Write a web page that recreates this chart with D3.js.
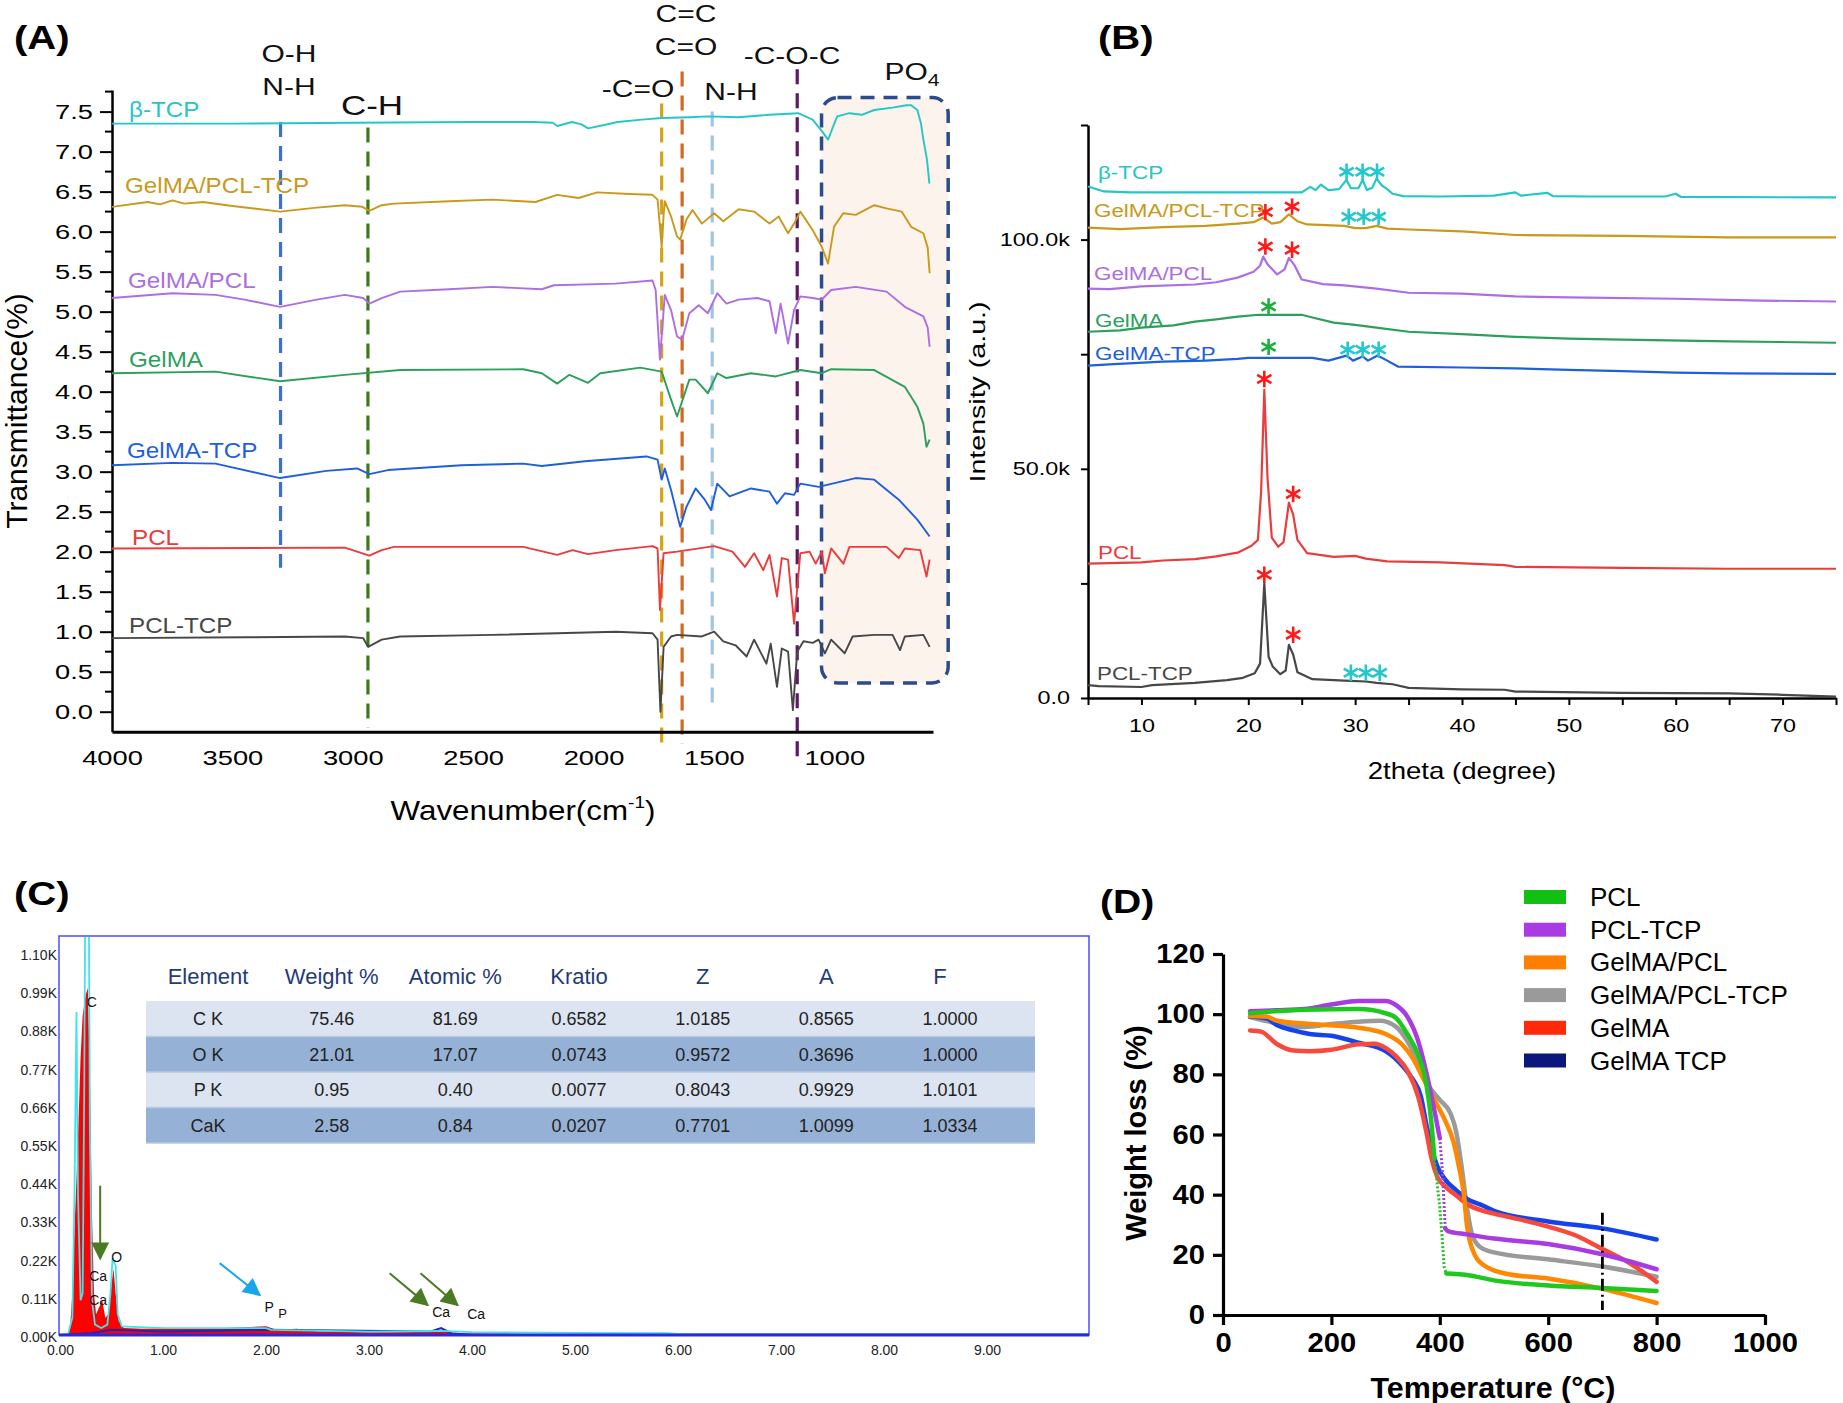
<!DOCTYPE html>
<html>
<head>
<meta charset="utf-8">
<script src="https://cdn.jsdelivr.net/npm/d3@7"></script>
<style>
body { margin: 0; background: #fff; }
svg { display: block; font-family: "Liberation Sans", Arial, Helvetica, sans-serif; }
</style>
</head>
<body>
<svg id="fig" width="1843" height="1403"></svg>
<script>
// ---------- (A) FTIR ----------
var ftirNames = ["β-TCP", "GelMA/PCL-TCP", "GelMA/PCL", "GelMA", "GelMA-TCP", "PCL", "PCL-TCP"];
var ftirBTCP = [[4000,7.35],[3500,7.35],[3000,7.36],[2500,7.37],[2250,7.37],[2170,7.36],[2150,7.32],[2090,7.37],[2050,7.34],[2023,7.29],[1960,7.33],[1900,7.37],[1800,7.4],[1717,7.42],[1600,7.43],[1525,7.44],[1400,7.43],[1270,7.46],[1150,7.48],[1090,7.4],[1050,7.25],[1026,7.15],[1000,7.35],[988,7.44],[937,7.48],[886,7.46],[834,7.52],[758,7.55],[700,7.58],[681,7.58],[655,7.52],[640,7.35],[630,7.15],[615,6.9],[605,6.6]];
var ftirGelPclTcp = [[4000,6.31],[3852,6.37],[3800,6.34],[3749,6.39],[3700,6.35],[3622,6.37],[3500,6.32],[3302,6.25],[3150,6.3],[3033,6.33],[2960,6.31],[2931,6.26],[2880,6.33],[2829,6.35],[2600,6.38],[2420,6.4],[2241,6.37],[2151,6.46],[2062,6.42],[1985,6.49],[1850,6.47],[1755,6.46],[1734,6.4],[1724,6.06],[1717,5.81],[1709,6.2],[1704,6.38],[1678,6.19],[1653,5.94],[1640,5.9],[1614,6.15],[1589,6.27],[1550,6.1],[1499,6.23],[1461,6.13],[1397,6.28],[1333,6.25],[1269,6.1],[1231,6.19],[1192,5.98],[1167,6.1],[1141,6.25],[1090,6.02],[1052,5.81],[1026,5.6],[1001,6.06],[963,6.23],[911,6.21],[834,6.33],[783,6.29],[720,6.25],[681,6.06],[630,5.98],[612,5.8],[604,5.48]];
var ftirGelPcl = [[4000,5.17],[3749,5.23],[3570,5.21],[3450,5.15],[3302,5.06],[3150,5.15],[3033,5.21],[2957,5.17],[2931,5.1],[2880,5.17],[2803,5.25],[2600,5.28],[2420,5.31],[2215,5.28],[2164,5.33],[1908,5.35],[1755,5.39],[1742,5.27],[1724,4.4],[1704,5.21],[1678,5.02],[1653,4.69],[1632,4.65],[1602,4.98],[1563,5.08],[1525,4.98],[1486,5.23],[1448,5.1],[1397,5.15],[1320,5.17],[1269,5.13],[1243,4.73],[1223,5.1],[1192,4.6],[1167,5.02],[1141,5.19],[1090,5.17],[1052,5.15],[1013,5.27],[911,5.31],[783,5.25],[707,5.06],[630,4.94],[612,4.8],[604,4.56]];
var ftirGelma = [[4000,4.23],[3570,4.25],[3302,4.13],[3033,4.21],[2803,4.27],[2292,4.28],[2215,4.23],[2151,4.1],[2100,4.21],[2023,4.11],[1972,4.23],[1806,4.3],[1717,4.25],[1678,3.9],[1653,3.69],[1602,4.15],[1576,4.15],[1525,3.98],[1486,4.23],[1448,4.17],[1346,4.23],[1243,4.19],[1141,4.27],[1052,4.23],[1013,4.28],[834,4.27],[707,4.06],[655,3.81],[630,3.6],[617,3.31],[604,3.4]];
var ftirGelmaTcp = [[4000,3.08],[3749,3.11],[3570,3.1],[3302,2.92],[3110,3.01],[2982,3.04],[2931,2.97],[2854,3.02],[2548,3.08],[2292,3.1],[2215,3.07],[2036,3.13],[1780,3.19],[1734,3.15],[1717,2.9],[1704,3.04],[1678,2.77],[1640,2.31],[1614,2.56],[1576,2.79],[1538,2.65],[1512,2.52],[1486,2.85],[1435,2.69],[1346,2.79],[1269,2.75],[1238,2.6],[1205,2.73],[1167,2.71],[1141,2.85],[1065,2.81],[911,2.92],[834,2.9],[732,2.65],[655,2.4],[604,2.19]];
var ftirPcl = [[4000,2.04],[3033,2.05],[2931,1.95],[2880,2.02],[2829,2.06],[2292,2.06],[2151,1.96],[2087,2.02],[2023,1.97],[1908,2.02],[1755,2.07],[1734,2.04],[1724,1.27],[1709,1.98],[1653,2.0],[1499,2.07],[1423,2.0],[1371,1.81],[1333,1.98],[1295,1.77],[1269,1.96],[1238,1.44],[1218,1.92],[1192,1.9],[1167,1.1],[1141,1.98],[1103,2.0],[1077,1.85],[1052,2.0],[1039,1.73],[1013,2.04],[962,1.85],[937,2.06],[783,2.06],[732,1.92],[707,2.04],[643,2.02],[617,1.69],[604,1.9]];
var ftirPclTcp = [[4000,0.92],[3443,0.93],[3033,0.94],[2957,0.92],[2936,0.81],[2880,0.9],[2803,0.94],[2420,0.96],[1908,1.0],[1755,0.98],[1734,0.9],[1722,0.0],[1709,0.81],[1678,0.94],[1653,0.96],[1550,0.94],[1499,1.0],[1461,0.88],[1410,0.83],[1364,0.69],[1333,0.9],[1282,0.6],[1264,0.85],[1238,0.31],[1218,0.79],[1192,0.75],[1172,0.02],[1154,0.75],[1128,0.88],[1090,0.86],[1065,0.9],[1039,0.73],[1013,0.9],[957,0.73],[924,0.94],[834,0.96],[758,0.96],[727,0.77],[707,0.94],[630,0.96],[604,0.81]];
var ftirTicksX = [4000, 3500, 3000, 2500, 2000, 1500, 1000];
var ftirBands = [3300, 2937, 1717, 1632, 1507, 1154];
var ftirBandTop = [7.37, 7.3, 7.6, 8.0, 7.5, 8.03];
var ftirBandBottom = [1.8, -0.2, -0.4, -0.4, 0.05, -0.6];
var po4Range = [1053, 527];

// ---------- (B) XRD ----------
var xrdBTCP = [[5,111.6],[6.5,110.5],[9,110.3],[15,110.3],[20,110.3],[25,110.3],[25.8,111.5],[26.3,110.8],[26.8,112],[27.5,110.8],[28.5,111],[29,112.5],[29.2,113],[29.6,111.2],[30.3,111.2],[30.7,113],[31.1,110.8],[31.6,111.3],[32,113.3],[32.5,111.8],[33,111],[33.5,110],[34.5,109.5],[38,109.4],[43,109.6],[45,110.3],[45.5,109.6],[48,110.2],[48.5,109.5],[52,109.4],[59,109.4],[60,110],[60.5,109.3],[75,109.2]];
var xrdGelPclTcp = [[5,102.6],[8,102.3],[12,102.7],[16,103],[19,103.5],[20.5,103.8],[21.4,104.8],[22.2,103.5],[23,103.8],[23.8,105.5],[24.6,104],[25.5,103.3],[29,103],[30,102.5],[31,102.5],[32,103],[33,102.4],[35,102.2],[40,101.8],[45,101],[55,100.8],[65,100.5],[75,100.5]];
var xrdGelPcl = [[5,89.3],[7,89.2],[10,89.8],[15,90.2],[17,90.7],[19,91.7],[20.5,93],[21.1,94.3],[21.4,96.3],[21.8,94.6],[22.7,92.4],[23.4,93.5],[23.8,96],[24.3,94.5],[25,91.3],[27,90.3],[29,90],[32,89.3],[35,88.4],[40,88.2],[45,87.6],[50,87.4],[60,87.1],[68,86.7],[75,86.5]];
var xrdGelma = [[5,79.9],[8,80.2],[10,80.8],[13,81.3],[15,82.1],[17,82.6],[19,83.2],[21,83.6],[25,83.6],[26,83],[28,81.9],[30,81.4],[32,80.8],[35,79.9],[40,79.4],[45,78.8],[50,78.4],[55,78.2],[65,77.8],[75,77.5]];
var xrdGelmaTcp = [[5,72.5],[7,72.8],[12,73.4],[16,73.6],[19,74],[20,74.2],[26,74.2],[27.5,73.6],[29.2,74.7],[29.8,73.6],[30.7,74.5],[31.2,73.6],[32.1,74.7],[33,73.6],[34,72.3],[40,72.1],[45,71.9],[50,71.6],[55,71.3],[60,71],[65,70.8],[75,70.7]];
var xrdPcl = [[5,29.3],[10,29.6],[12,30],[15,30.3],[17,30.9],[19,31.7],[20.3,33.2],[20.9,34.5],[21.2,45],[21.5,67.2],[21.8,48],[22.2,35],[22.8,33],[23.3,34],[23.8,42.6],[24.2,40],[24.6,34.5],[25.5,31.6],[28,30.8],[30,31],[31,30.4],[33,29.8],[38,29.6],[44,29],[45,28.6],[55,28.4],[65,28.2],[75,28.2]];
var xrdPclTcp = [[5,2.8],[6,2.6],[10,2.4],[11,2.8],[15,3.3],[18,3.9],[19.5,4.4],[20.6,5.4],[21.1,7.5],[21.5,25],[21.9,9],[22.3,6.8],[23,5.2],[23.5,6],[23.8,11.6],[24.2,9.5],[24.6,5.6],[26,4.1],[29,3.8],[31,3.6],[32,3.3],[33.5,3],[35,2.2],[40,1.9],[44,1.8],[45,1.4],[55,1.1],[65,1.0],[70,0.7],[75,0.3]];
// peak markers: [2theta, intensity (k), phase]
var xrdStars = [[29.2,114.8,"tcp"],[30.7,114.8,"tcp"],[32.05,114.8,"tcp"],
  [21.6,106,"pcl"],[24.1,107.2,"pcl"],[29.4,105,"tcp"],[30.8,105,"tcp"],[32.2,105,"tcp"],
  [21.6,98.5,"pcl"],[24.1,97.8,"pcl"],
  [21.9,85.4,"gel"],
  [21.9,76.6,"gel"],[29.3,76,"tcp"],[30.7,76,"tcp"],[32.2,76,"tcp"],
  [21.5,69.6,"pcl"],[24.2,44.5,"pcl"],
  [21.5,26.9,"pcl"],[24.2,13.8,"pcl"],[29.6,5.5,"tcp"],[31.0,5.5,"tcp"],[32.3,5.5,"tcp"]];

// ---------- (C) EDS ----------
var edsRed = [[0,0],[0.08,0.005],[0.1,0.03],[0.12,0.12],[0.14,0.3],[0.16,0.45],[0.18,0.62],[0.2,0.8],[0.22,0.92],[0.25,0.98],[0.27,1.0],[0.29,0.75],[0.31,0.35],[0.33,0.12],[0.35,0.06],[0.38,0.08],[0.41,0.1],[0.44,0.05],[0.47,0.06],[0.5,0.15],[0.52,0.19],[0.54,0.12],[0.57,0.04],[0.62,0.02],[0.8,0.018],[1.2,0.02],[1.6,0.02],[2.0,0.025],[2.1,0.015],[2.3,0.018],[2.5,0.01],[3.0,0.008],[3.6,0.008],[3.7,0.015],[3.8,0.005],[4.5,0.003],[5,0.002],[6,0.001]];
var edsCyan = [[0,0],[0.08,0.005],[0.12,0.05],[0.14,0.4],[0.16,0.93],[0.175,0.4],[0.2,0.1],[0.22,0.12],[0.235,0.7],[0.245,1.25],[0.28,1.25],[0.29,0.6],[0.31,0.1],[0.34,0.03],[0.4,0.02],[0.46,0.03],[0.49,0.12],[0.51,0.22],[0.54,0.2],[0.56,0.06],[0.6,0.025],[1.0,0.02],[2.0,0.02],[2.05,0.015],[3,0.01],[3.7,0.012],[4,0.008],[5,0.006],[5.9,0.005],[6,0.003],[10,0.003]];
var edsBlue = [[0,0],[0.3,0.005],[0.5,0.015],[1,0.01],[2,0.015],[3.6,0.01],[3.7,0.02],[3.8,0.005],[4,0]];
var edsTicksY = [0, 0.11, 0.22, 0.33, 0.44, 0.55, 0.66, 0.77, 0.88, 0.99, 1.10];
var edsTicksX = [0, 1, 2, 3, 4, 5, 6, 7, 8, 9];
var edsPeakLabels = [["C",0.31,0.96],["Ca",0.37,0.17],["Ca",0.37,0.1],["O",0.55,0.225],["P",2.03,0.08],["P",2.16,0.063],["Ca",3.7,0.066],["Ca",4.04,0.06]];
var edsArrows = [[0.39,0.43,0.39,0.22,"g"],[1.55,0.207,1.94,0.115,"b"],[3.2,0.178,3.57,0.086,"g"],[3.5,0.178,3.86,0.086,"g"]];
var tableHeader = ["Element", "Weight %", "Atomic %", "Kratio", "Z", "A", "F"];
var tableElement = ["C K", "O K", "P K", "CaK"];
var tableWeight = ["75.46", "21.01", "0.95", "2.58"];
var tableAtomic = ["81.69", "17.07", "0.40", "0.84"];
var tableKratio = ["0.6582", "0.0743", "0.0077", "0.0207"];
var tableZ = ["1.0185", "0.9572", "0.8043", "0.7701"];
var tableA = ["0.8565", "0.3696", "0.9929", "1.0099"];
var tableF = ["1.0000", "1.0000", "1.0101", "1.0334"];

// ---------- (D) TGA ----------
var tgaNames = ["PCL", "PCL-TCP", "GelMA/PCL", "GelMA/PCL-TCP", "GelMA", "GelMA TCP"];
var tgaPcl = [[50,100.3],[150,101.5],[250,101.7],[300,100.3],[320,98.6],[340,93.4],[360,86.5],[375,77],[385,63],[390,52],[400,35.8],[405,24],[408,16],[412,13.8],[450,13.3],[500,11.5],[600,9.8],[700,9],[800,8]];
var tgaPclTcp = [[50,101],[100,101.3],[150,101.7],[200,103.2],[250,104.4],[300,104.4],[320,102.9],[340,99.2],[360,91.1],[375,80.7],[390,68],[400,58.8],[405,47.3],[410,28.8],[415,27.9],[450,26.8],[500,25.4],[600,23.6],[700,20.2],[800,15.2]];
var tgaGelPcl = [[50,99.4],[80,99.2],[100,97.8],[150,96.9],[200,96.3],[250,95.5],[300,93.4],[330,90],[350,85.4],[370,78.4],[390,71.5],[410,64.6],[425,57.7],[435,49.6],[445,39.2],[450,30],[460,21.9],[480,16.7],[520,13.8],[600,12.1],[700,8.7],[800,4]];
var tgaGelPclTcp = [[50,99],[100,96.9],[150,95.7],[200,96.7],[250,97.5],[290,97.8],[320,95.7],[340,91.1],[360,84.2],[380,76.1],[400,71.5],[420,66.9],[430,61.1],[440,49.6],[450,35.8],[460,26.5],[475,22.5],[500,20.8],[600,18.5],[700,16.1],[800,12.7]];
var tgaGelma = [[50,94.6],[70,94.2],[100,90],[130,87.9],[160,87.7],[200,88.2],[250,90],[280,90.2],[300,88.8],[320,85.9],[340,81.3],[360,72.7],[375,61.1],[385,51.9],[395,46.1],[410,42.7],[430,39.8],[450,36.9],[480,34.6],[500,33.7],[600,29.4],[650,26.5],[700,21.9],[750,17.3],[800,11]];
var tgaGelmaTcp = [[50,99.2],[80,98.6],[100,96.3],[130,94.6],[160,93.4],[200,92.8],[250,90.5],[300,87.7],[330,83],[350,78.4],[365,72.7],[375,63.5],[385,55.4],[395,49.6],[410,45],[430,41.5],[450,38.6],[480,36.3],[500,34.6],[600,31.1],[700,28.8],[800,25.1]];
var tgaSparse = [[390, 412], [400, 410], null, null, null, null]; // sparse (dotted) stretch per series
var tgaMarkT = 700;
var tgaMarkRange = [1.7, 34];

var svg = d3.select("#fig");
svg.append("rect").attr("width", 1843).attr("height", 1403).attr("fill", "#fff");

// text helper: horizontally widened text, like the source figure
function label(g, x, y, str, size, k, anchor, fill, weight) {
    return g.append("text")
        .attr("transform", "translate(" + x + "," + y + ") scale(" + k + ",1)")
        .attr("text-anchor", anchor || "start")
        .attr("font-size", size)
        .attr("font-weight", weight || "normal")
        .attr("fill", fill || "#000")
        .text(str);
}
function widenTicks(axisG, k) {
    axisG.selectAll(".tick text").each(function () {
        var t = d3.select(this);
        t.attr("x", (+t.attr("x") || 0) / k).attr("transform", "scale(" + k + ",1)");
    });
}

// panel letters
label(svg, 14, 49, "(A)", 34, 1.18, "start", "#000", "bold");
label(svg, 1098, 49, "(B)", 34, 1.18, "start", "#000", "bold");
label(svg, 14, 905, "(C)", 34, 1.18, "start", "#000", "bold");
label(svg, 1100, 913, "(D)", 34, 1.15, "start", "#000", "bold");

// ================= (A) =================
function drawFTIR() {
    var xA = d3.scaleLinear().domain([4000, 590]).range([112, 933]);
    var yA = d3.scaleLinear().domain([-0.25, 7.77]).range([731.7, 90]);
    var gA = svg.append("g");

    // PO4 region
    gA.append("rect")
        .attr("x", xA(po4Range[0])).attr("y", yA(7.675))
        .attr("width", xA(po4Range[1]) - xA(po4Range[0]))
        .attr("height", yA(0.36) - yA(7.675))
        .attr("rx", 16)
        .attr("fill", "#fbf3ec").attr("stroke", "#2c4b8c")
        .attr("stroke-width", 3.5).attr("stroke-dasharray", "14,9");

    // band markers
    var bandColors = ["#3a6fd4", "#3c7a1a", "#d4a418", "#d2691e", "#9cc5e8", "#5e1763"];
    ftirBands.forEach(function (b, i) {
        gA.append("line")
            .attr("x1", xA(b)).attr("x2", xA(b))
            .attr("y1", yA(ftirBandTop[i])).attr("y2", yA(ftirBandBottom[i]))
            .attr("stroke", bandColors[i]).attr("stroke-width", 3.2)
            .attr("stroke-dasharray", "15,9");
    });

    // axes
    var yAxis = gA.append("g").attr("transform", "translate(112,0)")
        .call(d3.axisLeft(yA).tickValues(d3.range(0, 7.51, 0.5)).tickFormat(d3.format(".1f"))
            .tickSize(12).tickSizeOuter(0).tickPadding(7));
    yAxis.selectAll(".tick text").attr("font-size", 21);
    widenTicks(yAxis, 1.3);
    yAxis.selectAll(".tick line").attr("stroke-width", 2);
    yAxis.select(".domain").attr("stroke-width", 2.5);
    d3.range(0.25, 7.76, 0.5).forEach(function (v) {
        gA.append("line").attr("x1", 105).attr("x2", 112).attr("y1", yA(v)).attr("y2", yA(v))
            .attr("stroke", "#000").attr("stroke-width", 2);
    });

    var xAxis = gA.append("g").attr("transform", "translate(0," + yA(-0.25) + ")")
        .call(d3.axisBottom(xA).tickValues(ftirTicksX).tickFormat(d3.format("d"))
            .tickSize(0).tickSizeOuter(0).tickPadding(18));
    xAxis.selectAll(".tick text").attr("font-size", 21);
    widenTicks(xAxis, 1.3);
    xAxis.select(".domain").attr("stroke-width", 3);

    // spectra
    var series = [ftirBTCP, ftirGelPclTcp, ftirGelPcl, ftirGelma, ftirGelmaTcp, ftirPcl, ftirPclTcp];
    var colors = ["#25c6c6", "#c9991b", "#ad6ee3", "#2c9f5c", "#1f5fdc", "#ea3c3c", "#474747"];
    var line = d3.line().x(function (d) { return xA(d[0]); }).y(function (d) { return yA(d[1]); });
    series.forEach(function (s, i) {
        gA.append("path").datum(s).attr("d", line)
            .attr("fill", "none").attr("stroke", colors[i]).attr("stroke-width", 1.9)
            .attr("stroke-linejoin", "round");
    });

    // series labels
    var labelPos = [[129, 117], [125, 193], [128, 288], [129, 367], [127, 458], [132, 545], [129, 633]];
    ftirNames.forEach(function (n, i) {
        label(gA, labelPos[i][0], labelPos[i][1], n, 22, 1.1, "start", colors[i]);
    });

    // band annotations
    var ann = [["O-H", 289, 62, 24], ["N-H", 289, 95, 24], ["C-H", 372, 115, 28], ["-C=O", 638, 97, 24],
               ["C=C", 686, 22, 24], ["C=O", 686, 55, 24], ["N-H", 731, 100, 24], ["-C-O-C", 792, 64, 24]];
    ann.forEach(function (a) { label(gA, a[1], a[2], a[0], a[3], 1.25, "middle", "#111"); });
    var po4 = label(gA, 912, 80, "PO", 24, 1.25, "middle", "#111");
    po4.append("tspan").attr("font-size", 17).attr("dy", 6).text("4");

    // axis titles
    gA.append("text").attr("transform", "translate(27,411) rotate(-90)")
        .attr("text-anchor", "middle").attr("font-size", 30).text("Transmittance(%)");
    var wt = label(gA, 523, 820, "Wavenumber(cm", 28, 1.12, "middle", "#000");
    wt.append("tspan").attr("font-size", 17).attr("dy", -12).text("-1");
    wt.append("tspan").attr("dy", 12).text(")");
}

// ================= (B) =================
function drawXRD() {
    var xB = d3.scaleLinear().domain([5, 75]).range([1088, 1836]);
    var yB = d3.scaleLinear().domain([0, 125]).range([698, 125]);
    var gB = svg.append("g");

    var yAxis = gB.append("g").attr("transform", "translate(1088,0)")
        .call(d3.axisLeft(yB).tickValues([0, 25, 50, 75, 100, 125])
            .tickFormat(function (d) { return d === 0 ? "0.0" : (d % 50 === 0 ? d.toFixed(1) + "k" : ""); })
            .tickSize(7).tickSizeOuter(0).tickPadding(11));
    yAxis.selectAll(".tick text").attr("font-size", 18);
    widenTicks(yAxis, 1.3);
    yAxis.selectAll(".tick line").attr("stroke-width", 2);
    yAxis.select(".domain").attr("stroke-width", 2.5);

    var xAxis = gB.append("g").attr("transform", "translate(0,698)")
        .call(d3.axisBottom(xB).tickValues(d3.range(5, 76, 5))
            .tickFormat(function (d) { return d % 10 === 0 ? d : ""; })
            .tickSize(7).tickSizeOuter(0).tickPadding(14));
    xAxis.selectAll(".tick text").attr("font-size", 18);
    widenTicks(xAxis, 1.3);
    xAxis.selectAll(".tick line").attr("stroke-width", 2);
    xAxis.select(".domain").attr("stroke-width", 2.5);

    var series = [xrdBTCP, xrdGelPclTcp, xrdGelPcl, xrdGelma, xrdGelmaTcp, xrdPcl, xrdPclTcp];
    var colors = ["#25c6c6", "#c9991b", "#ad6ee3", "#2c9f5c", "#1f5fdc", "#ea3c3c", "#474747"];
    var line = d3.line().x(function (d) { return xB(d[0]); }).y(function (d) { return yB(d[1]); });
    series.forEach(function (s, i) {
        gB.append("path").datum(s).attr("d", line)
            .attr("fill", "none").attr("stroke", colors[i]).attr("stroke-width", 2.2)
            .attr("stroke-linejoin", "round");
    });

    var starColor = { tcp: "#22c8d0", pcl: "#ff1a1a", gel: "#1eae3e" };
    var star = d3.symbol().type(d3.symbolAsterisk).size(190);
    gB.selectAll(".star").data(xrdStars).enter().append("path")
        .attr("class", "star")
        .attr("transform", function (d) { return "translate(" + xB(d[0]) + "," + yB(d[1]) + ")"; })
        .attr("d", star).attr("fill", "none")
        .attr("stroke", function (d) { return starColor[d[2]]; }).attr("stroke-width", 2.6);

    var labelPos = [[1098, 179], [1094, 217], [1094, 280], [1095, 327], [1095, 360], [1098, 559], [1097, 680]];
    ftirNames.forEach(function (n, i) {
        label(gB, labelPos[i][0], labelPos[i][1], n, 17.5, 1.28, "start", colors[i]);
    });

    gB.append("text").attr("transform", "translate(985,392) rotate(-90) scale(1.3,1)")
        .attr("text-anchor", "middle").attr("font-size", 22).text("Intensity (a.u.)");
    label(gB, 1462, 779, "2theta (degree)", 23, 1.2, "middle", "#000");
}

// ================= (C) =================
function drawEDS() {
    var xC = d3.scaleLinear().domain([0, 10]).range([60, 1090]);
    var yC = d3.scaleLinear().domain([0, 1.1]).range([1335, 953]);
    var gC = svg.append("g");

    var defs = gC.append("defs");
    defs.append("clipPath").attr("id", "edsClip")
        .append("rect").attr("x", 60).attr("y", 937).attr("width", 1029).attr("height", 398);

    var plot = gC.append("g").attr("clip-path", "url(#edsClip)");
    var area = d3.area().x(function (d) { return xC(d[0]); }).y0(yC(0)).y1(function (d) { return yC(d[1]); });
    var line = d3.line().x(function (d) { return xC(d[0]); }).y(function (d) { return yC(d[1]); });
    plot.append("path").datum(edsRed).attr("d", area).attr("fill", "#ff0000");
    plot.append("path").datum(edsBlue).attr("d", line).attr("fill", "none").attr("stroke", "#2323b8").attr("stroke-width", 2);
    plot.append("path").datum(edsCyan).attr("d", line).attr("fill", "none").attr("stroke", "#3fe3ee").attr("stroke-width", 1.8);

    // frame
    gC.append("rect").attr("x", 59).attr("y", 936).attr("width", 1030).attr("height", 399)
        .attr("fill", "none").attr("stroke", "#4b4bff").attr("stroke-width", 1.5);
    gC.append("line").attr("x1", 59).attr("x2", 1089).attr("y1", 1335).attr("y2", 1335)
        .attr("stroke", "#2a2ad6").attr("stroke-width", 3);

    var yAxis = gC.append("g").attr("transform", "translate(58,2)")
        .call(d3.axisLeft(yC).tickValues(edsTicksY).tickFormat(function (d) { return d.toFixed(2) + "K"; })
            .tickSize(0).tickPadding(1));
    yAxis.select(".domain").remove();
    yAxis.selectAll(".tick text").attr("font-size", 14).attr("fill", "#222");

    var xAxis = gC.append("g").attr("transform", "translate(0,1339)")
        .call(d3.axisBottom(xC).tickValues(edsTicksX).tickFormat(d3.format(".2f")).tickSize(0).tickPadding(6));
    xAxis.select(".domain").remove();
    xAxis.selectAll(".tick text").attr("font-size", 14).attr("fill", "#222");

    gC.selectAll(".pk").data(edsPeakLabels).enter().append("text")
        .attr("x", function (d) { return xC(d[1]); }).attr("y", function (d) { return yC(d[2]); })
        .attr("dy", "0.35em").attr("text-anchor", "middle")
        .attr("font-size", function (d, i) { return i === 5 ? 13 : 14; }).attr("fill", "#111")
        .text(function (d) { return d[0]; });

    // arrows
    var arrowColor = { g: "#4a7a22", b: "#18a6ea" };
    ["g", "b"].forEach(function (k) {
        defs.append("marker").attr("id", "head" + k).attr("viewBox", "0 0 10 10")
            .attr("refX", 9).attr("refY", 5)
            .attr("markerUnits", "userSpaceOnUse").attr("orient", "auto")
            .attr("markerWidth", 24).attr("markerHeight", 18)
            .append("path").attr("d", "M0,0 L10,5 L0,10 Z").attr("fill", arrowColor[k]);
    });
    edsArrows.forEach(function (a) {
        gC.append("line").attr("x1", xC(a[0])).attr("y1", yC(a[1])).attr("x2", xC(a[2])).attr("y2", yC(a[3]))
            .attr("stroke", arrowColor[a[4]]).attr("stroke-width", 2)
            .attr("marker-end", "url(#head" + a[4] + ")");
    });

    // quantification table
    var cols = d3.scalePoint().domain(tableHeader).range([208, 950]);
    var rows = d3.scaleBand().domain(tableElement).range([1001, 1143]).paddingInner(0);
    var table = [tableElement, tableWeight, tableAtomic, tableKratio, tableZ, tableA, tableF];
    gC.selectAll(".row").data(tableElement).enter().append("rect")
        .attr("x", 146).attr("width", 889)
        .attr("y", function (d) { return rows(d); }).attr("height", rows.bandwidth())
        .attr("fill", function (d, i) { return i % 2 ? "#96b1d6" : "#dbe4f0"; });
    gC.selectAll(".rowline").data(tableElement).enter().append("line")
        .attr("x1", 146).attr("x2", 1035)
        .attr("y1", function (d) { return rows(d) + rows.bandwidth(); })
        .attr("y2", function (d) { return rows(d) + rows.bandwidth(); })
        .attr("stroke", "#b9c9e2").attr("stroke-width", 1.5);
    tableHeader.forEach(function (h, j) {
        gC.append("text").attr("x", cols(h) - (j === 6 ? 10 : 0)).attr("y", 984)
            .attr("text-anchor", "middle").attr("font-size", 22).attr("fill", "#1f3b78").text(h);
        table[j].forEach(function (v, r) {
            gC.append("text").attr("x", cols(h)).attr("y", rows(tableElement[r]) + rows.bandwidth() / 2)
                .attr("dy", "0.36em").attr("text-anchor", "middle").attr("font-size", 18)
                .attr("fill", "#222").text(v);
        });
    });
}

// ================= (D) =================
function drawTGA() {
    var xD = d3.scaleLinear().domain([0, 1000]).range([1223, 1765]);
    var yD = d3.scaleLinear().domain([0, 120]).range([1315, 954]);
    var gD = svg.append("g");

    var yAxis = gD.append("g").attr("transform", "translate(1223,0)")
        .call(d3.axisLeft(yD).tickValues(d3.range(0, 121, 20)).tickFormat(d3.format("d"))
            .tickSize(10).tickSizeOuter(0).tickPadding(8));
    var xAxis = gD.append("g").attr("transform", "translate(0,1315)")
        .call(d3.axisBottom(xD).tickValues(d3.range(0, 1001, 200)).tickFormat(d3.format("d"))
            .tickSize(10).tickSizeOuter(0).tickPadding(8));
    [xAxis, yAxis].forEach(function (a) {
        a.select(".domain").attr("stroke-width", 3.2);
        a.selectAll(".tick line").attr("stroke-width", 3.2);
        a.selectAll(".tick text").attr("font-size", 27).attr("font-weight", "bold").attr("fill", "#000");
    });
    widenTicks(yAxis, 1.08);
    widenTicks(xAxis, 1.08);

    var series = [tgaPcl, tgaPclTcp, tgaGelPcl, tgaGelPclTcp, tgaGelma, tgaGelmaTcp];
    var colors = ["#1fc81f", "#a93be3", "#ff8800", "#9a9a9a", "#f64a3c", "#1443ee"];
    var legendColors = ["#12c012", "#a93be3", "#ff8000", "#9a9a9a", "#ff2a0a", "#0b177c"];
    var line = d3.line().x(function (d) { return xD(d[0]); }).y(function (d) { return yD(d[1]); })
        .curve(d3.curveMonotoneX);
    var straight = d3.line().x(function (d) { return xD(d[0]); }).y(function (d) { return yD(d[1]); });
    var order = [3, 5, 4, 2, 1, 0];
    order.forEach(function (i) {
        var s = series[i], gap = tgaSparse[i];
        if (gap) {
            var a = s.filter(function (d) { return d[0] <= gap[0]; });
            var b = s.filter(function (d) { return d[0] >= gap[1]; });
            var c = s.filter(function (d) { return d[0] >= gap[0] && d[0] <= gap[1]; });
            [a, b].forEach(function (part) {
                gD.append("path").datum(part).attr("d", line).attr("fill", "none")
                    .attr("stroke", colors[i]).attr("stroke-width", 4.5).attr("stroke-linecap", "round");
            });
            gD.append("path").datum(c).attr("d", straight)
                .attr("fill", "none").attr("stroke", colors[i]).attr("stroke-width", 3)
                .attr("stroke-dasharray", "2,2");
        } else {
            gD.append("path").datum(s).attr("d", line).attr("fill", "none")
                .attr("stroke", colors[i]).attr("stroke-width", 4.5).attr("stroke-linecap", "round");
        }
    });

    gD.append("line").attr("x1", xD(tgaMarkT)).attr("x2", xD(tgaMarkT))
        .attr("y1", yD(tgaMarkRange[1])).attr("y2", yD(tgaMarkRange[0]))
        .attr("stroke", "#000").attr("stroke-width", 2.8).attr("stroke-dasharray", "12,4,2,4");

    // legend
    var lg = gD.append("g");
    tgaNames.forEach(function (n, i) {
        var cy = 897 + i * 32.7;
        lg.append("rect").attr("x", 1524).attr("y", cy - 7).attr("width", 42).attr("height", 14)
            .attr("fill", legendColors[i]);
        lg.append("text").attr("x", 1590).attr("y", cy + 9).attr("font-size", 26).attr("fill", "#000").text(n);
    });

    gD.append("text").attr("transform", "translate(1146,1133) rotate(-90)")
        .attr("text-anchor", "middle").attr("font-size", 29).attr("font-weight", "bold").text("Weight loss (%)");
    label(gD, 1493, 1398, "Temperature (°C)", 29, 1.05, "middle", "#000", "bold");
}

drawFTIR();
drawXRD();
drawEDS();
drawTGA();
</script>
</body>
</html>
